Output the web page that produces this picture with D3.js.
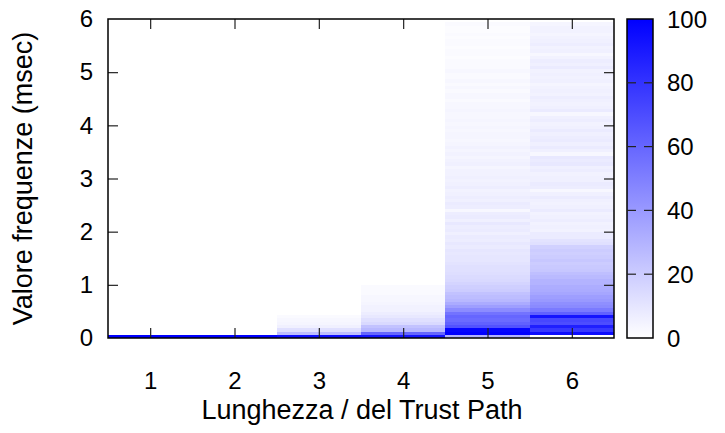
<!DOCTYPE html>
<html>
<head>
<meta charset="utf-8">
<script src="https://cdn.jsdelivr.net/npm/d3@7"></script>
<style>
  body { margin: 0; background: #fff; }
  text { font-family: "Liberation Sans", sans-serif; fill: #000; }
</style>
</head>
<body>
<script>
// Trust path lengths (x) and histogram of frequency values per length (rows of binWidth msec, bottom to top)
var pathLengths = [1, 2, 3, 4, 5, 6];
var binWidth = 0.0625;

var freqLen1 = [100];
var freqLen2 = [100];
var freqLen3 = [95, 25, 12, 6, 4, 3, 2];
var freqLen4 = [92, 60, 28, 24, 15, 12, 9, 7, 5, 5, 4, 3, 3, 2, 2, 2];
var freqLen5 = [
  30, 100, 98, 68, 62, 58, 60, 55, 45, 38, 33, 28, 26, 24, 20, 19,
  17, 15, 14, 13, 12, 12, 11, 10, 10, 9, 10, 8, 9, 7, 8, 6,
  8, 7, 9, 6, 8, 7, 3, 7, 8, 6, 7, 6, 5, 7, 6, 5,
  6, 5, 5, 4, 6, 5, 4, 5, 4, 5, 4, 3, 4, 4, 3, 4,
  3, 4, 3, 3, 4, 3, 3, 2, 3, 3, 2, 3, 2, 3, 2, 2,
  3, 2, 2, 2, 1, 2, 2, 1, 2, 2, 1, 2, 1, 1, 2
];
var freqLen6 = [
  0, 95, 78, 88, 70, 72, 92, 62, 52, 46, 44, 40, 38, 35, 33, 32,
  30, 30, 27, 25, 22, 21, 20, 22, 20, 19, 20, 18, 12, 11, 8, 8,
  5, 6, 5, 7, 6, 5, 8, 6, 5, 6, 8, 6, 3, 7, 8, 6,
  6, 5, 7, 6, 9, 8, 9, 3, 6, 8, 6, 8, 7, 6, 8, 6,
  5, 7, 6, 3, 8, 6, 5, 6, 7, 5, 6, 5, 4, 6, 5, 6,
  5, 8, 6, 7, 5, 3, 6, 5, 7, 6, 5, 4, 5, 5, 4
];
var freqColumns = [freqLen1, freqLen2, freqLen3, freqLen4, freqLen5, freqLen6];

var yTicks = [0, 1, 2, 3, 4, 5, 6];
var cbTicks = [0, 20, 40, 60, 80, 100];

var W = 725, H = 433;
var plot = {left: 108, right: 614, top: 19, bottom: 338};
var cb = {left: 627, right: 653};

var svg = d3.select('body').append('svg')
  .attr('width', W)
  .attr('height', H);

var x = d3.scaleLinear().domain([0.5, 6.5]).range([plot.left, plot.right]);
var y = d3.scaleLinear().domain([0, 6]).range([plot.bottom, plot.top]);
var color = d3.scaleLinear().domain([0, 100]).range(['#ffffff', '#0000ff']);
var cbScale = d3.scaleLinear().domain([0, 100]).range([plot.bottom, plot.top]);

// flatten the columns into cells
var cells = [];
freqColumns.forEach(function (col, c) {
  col.forEach(function (v, i) {
    cells.push({len: pathLengths[c], lo: i * binWidth, hi: (i + 1) * binWidth, value: v});
  });
});

svg.append('g')
  .selectAll('rect')
  .data(cells)
  .enter().append('rect')
  .attr('x', function (d) { return x(d.len - 0.5); })
  .attr('width', function (d) { return x(d.len + 0.5) - x(d.len - 0.5); })
  .attr('y', function (d) { return y(d.hi); })
  .attr('height', function (d) { return y(d.lo) - y(d.hi) + 0.4; })
  .attr('fill', function (d) { return color(d.value); })
  .attr('shape-rendering', 'crispEdges');

// axes, inward ticks and mirrored ones
var fontSize = 24;
var fmt = d3.format('d');
var xAxis = svg.append('g')
  .attr('transform', 'translate(0,' + plot.bottom + ')')
  .call(d3.axisBottom(x).tickValues(pathLengths).tickFormat(fmt).tickSize(-10).tickPadding(34));
var xTop = svg.append('g')
  .attr('transform', 'translate(0,' + plot.top + ')')
  .call(d3.axisTop(x).tickValues(pathLengths).tickSize(-10).tickFormat(''));
var yAxis = svg.append('g')
  .attr('transform', 'translate(' + plot.left + ',0)')
  .call(d3.axisLeft(y).tickValues(yTicks).tickFormat(fmt).tickSize(-10).tickPadding(15));
var yRight = svg.append('g')
  .attr('transform', 'translate(' + plot.right + ',0)')
  .call(d3.axisRight(y).tickValues(yTicks).tickSize(-10).tickFormat(''));

[xAxis, xTop, yAxis, yRight].forEach(function (g) {
  g.select('.domain').remove();
  g.selectAll('line').attr('stroke', '#222').attr('stroke-width', 1.2);
  g.selectAll('text').attr('font-size', fontSize).attr('font-family', null);
});
// drop ticks that sit on the frame
yAxis.selectAll('.tick').filter(function (d) { return d === 0 || d === 6; }).select('line').remove();
yRight.selectAll('.tick').filter(function (d) { return d === 0 || d === 6; }).select('line').remove();

svg.append('rect')
  .attr('x', plot.left).attr('y', plot.top)
  .attr('width', plot.right - plot.left).attr('height', plot.bottom - plot.top)
  .attr('fill', 'none').attr('stroke', '#000').attr('stroke-width', 1.5);

// colour box
var grad = svg.append('defs').append('linearGradient')
  .attr('id', 'cbgrad')
  .attr('x1', 0).attr('x2', 0).attr('y1', 1).attr('y2', 0);
grad.selectAll('stop')
  .data([0, 100])
  .enter().append('stop')
  .attr('offset', function (d) { return d / 100; })
  .attr('stop-color', function (d) { return color(d); });

svg.append('rect')
  .attr('x', cb.left).attr('y', plot.top)
  .attr('width', cb.right - cb.left).attr('height', plot.bottom - plot.top)
  .attr('fill', 'url(#cbgrad)')
  .attr('stroke', '#000').attr('stroke-width', 1.5);

var inner = cbTicks.filter(function (d) { return d > 0 && d < 100; });
svg.append('g').selectAll('line')
  .data(inner)
  .enter().append('line')
  .attr('x1', cb.left).attr('x2', cb.left + 9)
  .attr('y1', cbScale).attr('y2', cbScale)
  .attr('stroke', '#222').attr('stroke-width', 1.2);
svg.append('g').selectAll('line')
  .data(inner)
  .enter().append('line')
  .attr('x1', cb.right - 9).attr('x2', cb.right)
  .attr('y1', cbScale).attr('y2', cbScale)
  .attr('stroke', '#222').attr('stroke-width', 1.2);

svg.append('g').selectAll('text')
  .data(cbTicks)
  .enter().append('text')
  .attr('x', 667)
  .attr('y', cbScale)
  .attr('dy', '0.36em')
  .attr('font-size', fontSize)
  .text(function (d) { return d; });

// titles
svg.append('text')
  .attr('x', 362)
  .attr('y', 419)
  .attr('text-anchor', 'middle')
  .attr('font-size', 27)
  .text('Lunghezza / del Trust Path');

svg.append('text')
  .attr('transform', 'translate(32,' + (plot.top + plot.bottom) / 2 + ') rotate(-90)')
  .attr('text-anchor', 'middle')
  .attr('font-size', 27)
  .text('Valore frequenze (msec)');
</script>
</body>
</html>
